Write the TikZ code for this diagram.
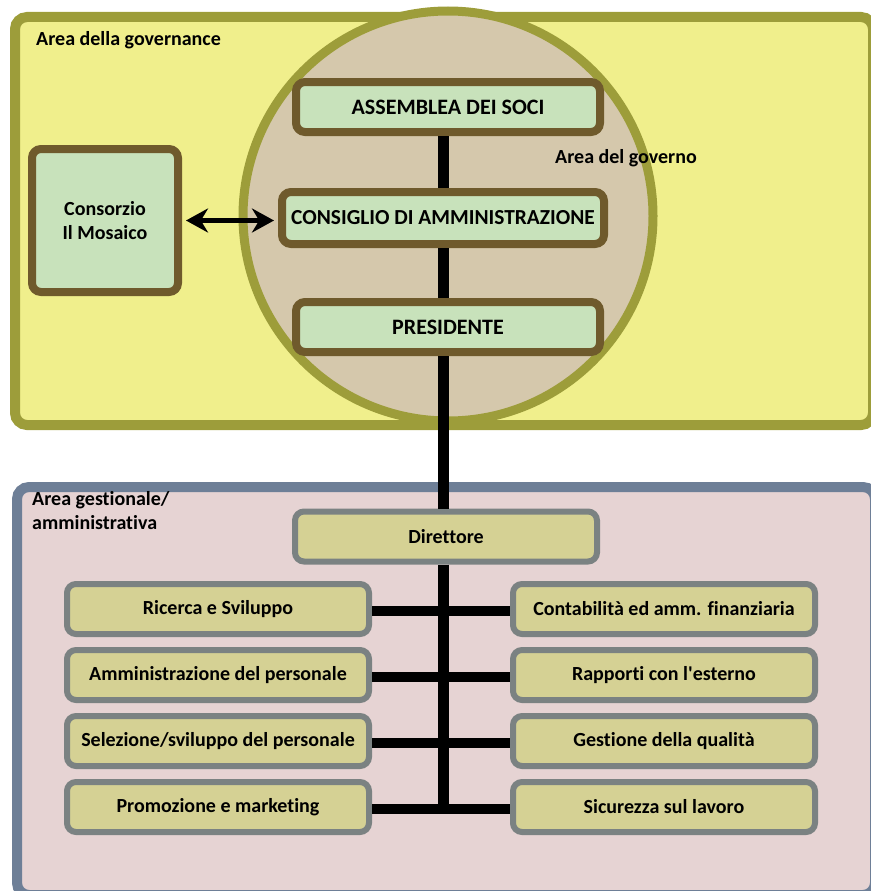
\documentclass[tikz,border=0pt]{standalone}
\usepackage{fontspec}
\setmainfont[Ligatures={NoCommon}]{Carlito}
\usetikzlibrary{arrows.meta, positioning}

\definecolor{olive}{HTML}{9D9D3A}
\definecolor{govyellow}{HTML}{F0EF8C}
\definecolor{circlefill}{HTML}{D5C8AC}
\definecolor{brownline}{HTML}{6F5A2C}
\definecolor{greenfill}{HTML}{C8E2BB}
\definecolor{slate}{HTML}{6E7F97}
\definecolor{pinkfill}{HTML}{E6D3D3}
\definecolor{grayline}{HTML}{7B8282}
\definecolor{khaki}{HTML}{D5D194}

\tikzset{
	govbox/.style={draw=brownline, fill=greenfill, line width=8pt, rounded corners=9pt,
		minimum width=304pt, minimum height=50pt, align=center, inner sep=2pt,
		font=\fontsize{22}{26}\selectfont\bfseries},
	mgmtbox/.style={draw=grayline, fill=khaki, line width=6pt, rounded corners=9pt,
		minimum width=302pt, minimum height=50pt, align=center, inner sep=2pt},
	arealabel/.style={anchor=north west, inner sep=0pt, align=left},
	link/.style={line width=11pt, black}
}

\begin{document}
\begin{tikzpicture}[x=1pt, y=-1pt, font=\fontsize{20}{24.5}\selectfont\bfseries]
	\useasboundingbox (0,0) rectangle (870,891);

	% areas
	\draw[draw=olive, fill=govyellow, line width=10pt, rounded corners=12pt] (15,17) rectangle (873,425);
	\draw[draw=slate, fill=pinkfill, line width=10pt, rounded corners=12pt] (17,487) rectangle (875,895);
	\draw[draw=olive, fill=circlefill, line width=9pt] (448,216) circle[radius=205pt];

	\node[arealabel] (govlabel) at (36,31) {Area della governance};
	\node[arealabel] (governolabel) at (555,149) {Area del governo};
	\node[arealabel] (mgmtlabel) at (32,491) {Area gestionale/\\amministrativa};

	% governo
	\node[govbox] (assemblea) at (448,107) {ASSEMBLEA DEI SOCI};
	\node[govbox, minimum width=322pt, minimum height=52pt, font=\fontsize{21.4}{26}\selectfont\bfseries] (consiglio) at (443,218) {CONSIGLIO DI AMMINISTRAZIONE};
	\node[govbox] (presidente) at (448,327) {PRESIDENTE};
	\node[govbox, minimum width=146pt, minimum height=143pt, font=\fontsize{20}{24.5}\selectfont\bfseries] (consorzio) at (105,220.5) {Consorzio\\Il Mosaico};

	% gestione
	\node[mgmtbox] (direttore) at (446,536.5) {Direttore};
	\node[mgmtbox] (ricerca) at (218,609) {Ricerca e Sviluppo};
	\node[mgmtbox] (ammpers) at (218,675) {Amministrazione del personale};
	\node[mgmtbox] (selezione) at (218,741) {Selezione/sviluppo del personale};
	\node[mgmtbox] (promozione) at (218,807) {Promozione e marketing};
	\node[mgmtbox] (contabilita) at (664,609) {Contabilità ed amm. finanziaria};
	\node[mgmtbox] (rapporti) at (664,675) {Rapporti con l\textquotesingle esterno};
	\node[mgmtbox] (qualita) at (664,741) {Gestione della qualità};
	\node[mgmtbox] (sicurezza) at (664,807) {Sicurezza sul lavoro};

	\coordinate (spine) at (443,810);

	\draw[link] (assemblea.south -| spine) -- (consiglio.north -| spine);
	\draw[link] (consiglio.south -| spine) -- (presidente.north -| spine);
	\draw[link] (presidente.south -| spine) -- (direttore.north -| spine);
	\draw[link] (direttore.south -| spine) -- (spine);
	\foreach \l/\r in {ricerca/contabilita, ammpers/rapporti, selezione/qualita, promozione/sicurezza}
		\draw[link, line width=10pt] ([yshift=-2pt]\l.east) -- ([yshift=-2pt]\r.west);

	\draw[{Stealth[length=22pt, width=24pt]}-{Stealth[length=22pt, width=24pt]}, line width=5pt]
		([xshift=4pt]consorzio.east) -- ([xshift=-4pt]consorzio.east -| consiglio.west);
\end{tikzpicture}
\end{document}
